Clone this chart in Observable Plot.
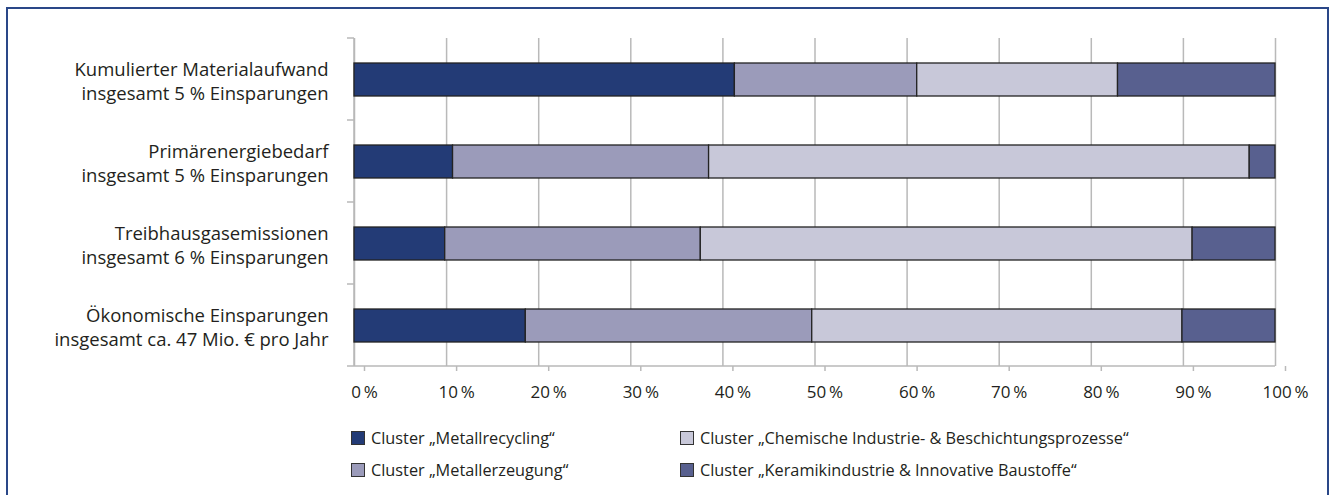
<!DOCTYPE html>
<html>
<head>
<meta charset="utf-8">
<script src="https://cdn.jsdelivr.net/npm/d3@7"></script>
<script src="https://cdn.jsdelivr.net/npm/@observablehq/plot@0.6"></script>
<style>
  html, body { margin: 0; padding: 0; background: #fff; }
  body { width: 1335px; height: 495px; position: relative; overflow: hidden; font-family: "Open Sans", sans-serif; color: #231f20; }
  #frame { position: absolute; left: 6px; top: 7px; width: 1323px; height: 500px; border: 2.5px solid #2a4788; box-sizing: border-box; }
  #chart { position: absolute; left: 0; top: 0; }
  #legend { position: absolute; left: 351px; top: 422px; display: grid; grid-template-columns: 329px auto; grid-auto-rows: 32px; font-size: 16.3px; }
  .item { display: flex; align-items: center; white-space: nowrap; }
  .sw { width: 12px; height: 12px; border: 1px solid #333; margin-right: 6px; flex: none; }
</style>
</head>
<body>
<div id="frame"></div>
<div id="chart"></div>
<div id="legend"></div>
<script>
// ---- data ----
const categories = [
  "Kumulierter Materialaufwand\ninsgesamt 5 % Einsparungen",
  "Primärenergiebedarf\ninsgesamt 5 % Einsparungen",
  "Treibhausgasemissionen\ninsgesamt 6 % Einsparungen",
  "Ökonomische Einsparungen\ninsgesamt ca. 47 Mio. € pro Jahr"
];
const clusters = [
  "Cluster „Metallrecycling“",
  "Cluster „Metallerzeugung“",
  "Cluster „Chemische Industrie- & Beschichtungsprozesse“",
  "Cluster „Keramikindustrie & Innovative Baustoffe“"
];
const metallrecycling = [41.3, 10.7, 9.85, 18.6];
const metallerzeugung = [19.8, 27.8, 27.75, 31.1];
const chemische       = [21.8, 58.7, 53.4, 40.2];
const keramik         = [17.1, 2.8, 9.0, 10.1];
const clusterColors = ["#233b76", "#9b9bba", "#c8c8d9", "#58608f"];
const xTicks = [0, 10, 20, 30, 40, 50, 60, 70, 80, 90, 100];
// legend order (2 columns x 2 rows)
const legendOrder = [0, 2, 1, 3];

const series = [metallrecycling, metallerzeugung, chemische, keramik];
const table = [];
clusters.forEach((c, i) => categories.forEach((cat, j) => table.push({cat, cluster: c, value: series[i][j]})));

const grid = "#b9b9b9";
const ink = "#231f20";

function boundaryMarks(index, scales, values, dimensions) {
  const x = scales.x;
  const top = dimensions.marginTop;
  const bottom = dimensions.height - dimensions.marginBottom;
  const step = (bottom - top) / categories.length;
  const x0 = x(0), x1 = x(100);
  const g = d3.create("svg:g").attr("stroke", grid).attr("stroke-width", 1.5).attr("fill", "none");
  const bounds = d3.range(categories.length + 1).map(i => top + i * step);
  bounds.forEach(b => g.append("line").attr("x1", x0 - 7).attr("x2", x0).attr("y1", b).attr("y2", b));
  g.append("line").attr("x1", x0).attr("x2", x1).attr("y1", bottom).attr("y2", bottom);
  g.append("line").attr("x1", x0).attr("x2", x0).attr("y1", top).attr("y2", bottom);
  return g.node();
}

const chart = Plot.plot({
  width: 1335,
  height: 410,
  marginLeft: 354,
  marginRight: 60,
  marginTop: 38,
  marginBottom: 44,
  style: {fontFamily: "Open Sans, sans-serif", color: ink, background: "transparent"},
  x: {domain: [0, 100], ticks: xTicks},
  y: {domain: categories, paddingInner: 0.6, paddingOuter: 0.3},
  color: {domain: clusters, range: clusterColors},
  marks: [
    Plot.gridX(xTicks, {stroke: grid, strokeOpacity: 1, strokeWidth: 1.5}),
    boundaryMarks,
    Plot.barX(table, {y: "cat", x: "value", fill: "cluster", stroke: "#232323", strokeWidth: 1.3}),
    Plot.axisX(xTicks, {tickSize: 5, tickPadding: 14, stroke: grid, strokeWidth: 1.5, strokeOpacity: 1, fill: ink, fontSize: 17, dx: 10, tickFormat: d => d + "\u2009%", label: null}),
    Plot.axisY({tickSize: 0, tickPadding: 26, fontSize: 18.5, lineHeight: 1.35, fill: ink, label: null})
  ]
});
document.getElementById("chart").appendChild(chart);

const legend = document.getElementById("legend");
legendOrder.forEach(i => {
  const it = document.createElement("div");
  it.className = "item";
  const sw = document.createElement("span");
  sw.className = "sw";
  sw.style.background = clusterColors[i];
  it.appendChild(sw);
  it.appendChild(document.createTextNode(clusters[i]));
  legend.appendChild(it);
});
</script>
</body>
</html>
